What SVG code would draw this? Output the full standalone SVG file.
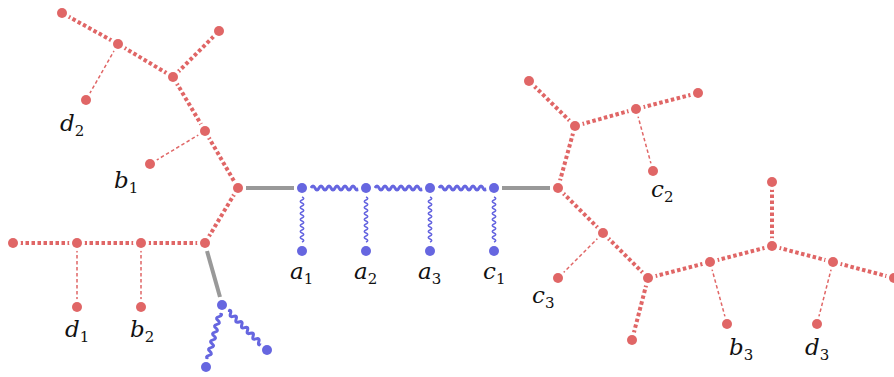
<svg xmlns="http://www.w3.org/2000/svg" xmlns:xlink="http://www.w3.org/1999/xlink" width="894" height="377" viewBox="0 0 894 377">
<style>
.thick{stroke:#e06666;stroke-width:4;stroke-dasharray:3.5 2.5;fill:none}
.thin{stroke:#e06666;stroke-width:1.5;stroke-dasharray:3.5 2.5;fill:none}
.gray{stroke:#999999;stroke-width:4;fill:none}
.wh{stroke:#6666e0;stroke-width:3;fill:none}
.wv{stroke:#6666e0;stroke-width:1.5;fill:none}
.rn{fill:#e06666;stroke:#ffffff;stroke-width:6;paint-order:stroke fill}
.bn{fill:#6666e0;stroke:#ffffff;stroke-width:6;paint-order:stroke fill}
.lbl{font-family:"DejaVu Serif","Liberation Serif",serif;font-style:italic;font-size:23px;fill:#111}
.sub{font-style:normal;font-size:15px}
</style>
<defs>
<path id="waveH" d="M0 0q2 -4 4 0t4 0t4 0t4 0t4 0t4 0t4 0t4 0t4 0t4 0t4 0t4 0"/>
<path id="waveV" d="M0 0q1.5 -3.5 3 0t3 0t3 0t3 0t3 0t3 0t3 0t3 0t3 0t3 0t3 0t3 0t3 0t3 0t3 0"/>
</defs>
<g id="connectors">
<line class="thick" x1="62" y1="13" x2="118" y2="44"/>
<line class="thick" x1="118" y1="44" x2="173" y2="77"/>
<line class="thick" x1="173" y1="77" x2="219" y2="31"/>
<line class="thick" x1="173" y1="77" x2="205" y2="131"/>
<line class="thick" x1="205" y1="131" x2="238" y2="188"/>
<line class="thick" x1="238" y1="188" x2="205" y2="243"/>
<line class="thick" x1="205" y1="243" x2="141" y2="243"/>
<line class="thick" x1="141" y1="243" x2="77" y2="243"/>
<line class="thick" x1="77" y1="243" x2="13" y2="243"/>
<line class="thin" x1="118" y1="44" x2="86" y2="100"/>
<line class="thin" x1="205" y1="131" x2="150" y2="164"/>
<line class="thin" x1="77" y1="243" x2="77" y2="307"/>
<line class="thin" x1="141" y1="243" x2="141" y2="307"/>
<line class="gray" x1="246" y1="188" x2="294" y2="188"/>
<line class="gray" x1="502" y1="188" x2="550" y2="188"/>
<line class="gray" x1="207" y1="251" x2="220" y2="297"/>
<use href="#waveH" class="wh" transform="translate(311,188)"/>
<use href="#waveH" class="wh" transform="translate(375,188)"/>
<use href="#waveH" class="wh" transform="translate(439,188)"/>
<use href="#waveV" class="wv" transform="translate(302,197) rotate(90)"/>
<use href="#waveV" class="wv" transform="translate(366,197) rotate(90)"/>
<use href="#waveV" class="wv" transform="translate(430,197) rotate(90)"/>
<use href="#waveV" class="wv" transform="translate(494,197) rotate(90)"/>
<use href="#waveH" class="wh" transform="translate(222,305) rotate(104.5) translate(8,0)"/>
<use href="#waveH" class="wh" transform="translate(222,305) rotate(45) translate(8,0)"/>
<line class="thick" x1="558" y1="188" x2="575" y2="126"/>
<line class="thick" x1="575" y1="126" x2="529" y2="81"/>
<line class="thick" x1="575" y1="126" x2="636" y2="109"/>
<line class="thick" x1="636" y1="109" x2="698" y2="93"/>
<line class="thick" x1="558" y1="188" x2="603" y2="233"/>
<line class="thick" x1="603" y1="233" x2="648" y2="278"/>
<line class="thick" x1="648" y1="278" x2="632" y2="340"/>
<line class="thick" x1="648" y1="278" x2="710" y2="262"/>
<line class="thick" x1="710" y1="262" x2="772" y2="246"/>
<line class="thick" x1="772" y1="246" x2="772" y2="182"/>
<line class="thick" x1="772" y1="246" x2="833" y2="262"/>
<line class="thick" x1="833" y1="262" x2="894" y2="278"/>
<line class="thin" x1="636" y1="109" x2="653" y2="171"/>
<line class="thin" x1="603" y1="233" x2="558" y2="278"/>
<line class="thin" x1="710" y1="262" x2="727" y2="324"/>
<line class="thin" x1="833" y1="262" x2="817" y2="324"/>
</g>
<g id="n-l1"><circle class="rn" cx="62" cy="13" r="5"/></g>
<g id="n-l2"><circle class="rn" cx="118" cy="44" r="5"/></g>
<g id="n-l3"><circle class="rn" cx="173" cy="77" r="5"/></g>
<g id="n-l4"><circle class="rn" cx="219" cy="31" r="5"/></g>
<g id="n-d2"><circle class="rn" cx="86" cy="100" r="5"/><text class="lbl" x="60" y="131">d<tspan class="sub" dy="5">2</tspan></text></g>
<g id="n-l6"><circle class="rn" cx="205" cy="131" r="5"/></g>
<g id="n-b1"><circle class="rn" cx="150" cy="164" r="5"/><text class="lbl" x="114" y="188">b<tspan class="sub" dy="5">1</tspan></text></g>
<g id="n-l8"><circle class="rn" cx="238" cy="188" r="5"/></g>
<g id="n-l9"><circle class="rn" cx="205" cy="243" r="5"/></g>
<g id="n-l10"><circle class="rn" cx="13" cy="243" r="5"/></g>
<g id="n-l11"><circle class="rn" cx="77" cy="243" r="5"/></g>
<g id="n-l12"><circle class="rn" cx="141" cy="243" r="5"/></g>
<g id="n-d1"><circle class="rn" cx="77" cy="307" r="5"/><text class="lbl" x="65" y="337">d<tspan class="sub" dy="5">1</tspan></text></g>
<g id="n-b2"><circle class="rn" cx="141" cy="307" r="5"/><text class="lbl" x="130" y="337">b<tspan class="sub" dy="5">2</tspan></text></g>
<g id="n-bl1"><circle class="bn" cx="222" cy="305" r="5"/></g>
<g id="n-bl2"><circle class="bn" cx="206" cy="367" r="5"/></g>
<g id="n-bl3"><circle class="bn" cx="267" cy="350" r="5"/></g>
<g id="n-m1"><circle class="bn" cx="302" cy="188" r="5"/></g>
<g id="n-m2"><circle class="bn" cx="366" cy="188" r="5"/></g>
<g id="n-m3"><circle class="bn" cx="430" cy="188" r="5"/></g>
<g id="n-m4"><circle class="bn" cx="494" cy="188" r="5"/></g>
<g id="n-a1"><circle class="bn" cx="302" cy="251" r="5"/><text class="lbl" x="290" y="279">a<tspan class="sub" dy="5">1</tspan></text></g>
<g id="n-a2"><circle class="bn" cx="366" cy="251" r="5"/><text class="lbl" x="354" y="279">a<tspan class="sub" dy="5">2</tspan></text></g>
<g id="n-a3"><circle class="bn" cx="430" cy="251" r="5"/><text class="lbl" x="418" y="279">a<tspan class="sub" dy="5">3</tspan></text></g>
<g id="n-c1"><circle class="bn" cx="494" cy="251" r="5"/><text class="lbl" x="483" y="279">c<tspan class="sub" dy="5">1</tspan></text></g>
<g id="n-r1"><circle class="rn" cx="558" cy="188" r="5"/></g>
<g id="n-r2"><circle class="rn" cx="575" cy="126" r="5"/></g>
<g id="n-r3"><circle class="rn" cx="529" cy="81" r="5"/></g>
<g id="n-r4"><circle class="rn" cx="636" cy="109" r="5"/></g>
<g id="n-r5"><circle class="rn" cx="698" cy="93" r="5"/></g>
<g id="n-c2"><circle class="rn" cx="653" cy="171" r="5"/><text class="lbl" x="651" y="197">c<tspan class="sub" dy="5">2</tspan></text></g>
<g id="n-r7"><circle class="rn" cx="603" cy="233" r="5"/></g>
<g id="n-c3"><circle class="rn" cx="558" cy="278" r="5"/><text class="lbl" x="532" y="303">c<tspan class="sub" dy="5">3</tspan></text></g>
<g id="n-r9"><circle class="rn" cx="648" cy="278" r="5"/></g>
<g id="n-r10"><circle class="rn" cx="632" cy="340" r="5"/></g>
<g id="n-r11"><circle class="rn" cx="710" cy="262" r="5"/></g>
<g id="n-r12"><circle class="rn" cx="772" cy="246" r="5"/></g>
<g id="n-r13"><circle class="rn" cx="772" cy="182" r="5"/></g>
<g id="n-r14"><circle class="rn" cx="833" cy="262" r="5"/></g>
<g id="n-r15"><circle class="rn" cx="894" cy="278" r="5"/></g>
<g id="n-b3"><circle class="rn" cx="727" cy="324" r="5"/><text class="lbl" x="729" y="355">b<tspan class="sub" dy="5">3</tspan></text></g>
<g id="n-d3"><circle class="rn" cx="817" cy="324" r="5"/><text class="lbl" x="805" y="355">d<tspan class="sub" dy="5">3</tspan></text></g>
</svg>
